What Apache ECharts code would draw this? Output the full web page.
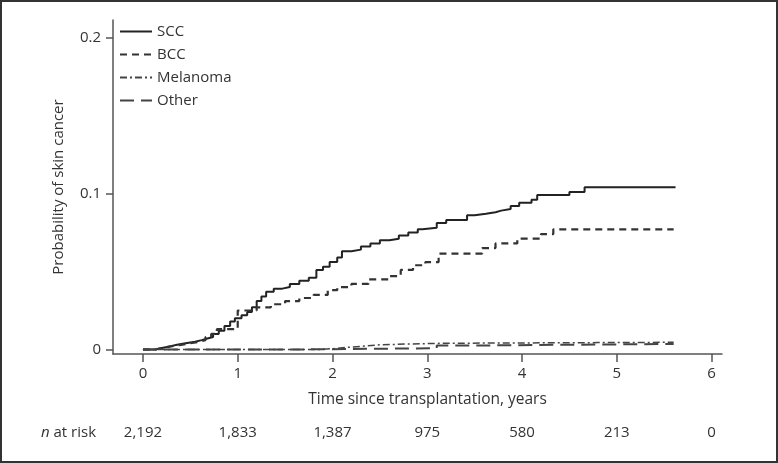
<!DOCTYPE html>
<html>
<head>
<meta charset="utf-8">
<script src="https://cdn.jsdelivr.net/npm/echarts@6/dist/echarts.min.js"></script>
<style>
html,body{margin:0;padding:0;background:#fff;}
#c{width:778px;height:463px;}
</style>
</head>
<body>
<div id="c"></div>
<script>
// Years since transplantation and cumulative probability (step points)
var sccPoints = [[0,0],[0.13,0.001],[0.2,0.002],[0.28,0.003],[0.36,0.004],[0.45,0.005],[0.55,0.006],[0.62,0.007],[0.68,0.008],[0.74,0.010],[0.8,0.012],[0.86,0.015],[0.92,0.018],[0.97,0.020],[1.04,0.022],[1.1,0.024],[1.15,0.027],[1.2,0.031],[1.25,0.034],[1.3,0.037],[1.38,0.039],[1.47,0.040],[1.55,0.042],[1.65,0.044],[1.75,0.046],[1.83,0.051],[1.9,0.053],[1.97,0.056],[2.05,0.059],[2.1,0.063],[2.2,0.064],[2.3,0.066],[2.4,0.068],[2.5,0.070],[2.6,0.071],[2.7,0.073],[2.8,0.075],[2.9,0.077],[2.95,0.078],[3.1,0.081],[3.2,0.083],[3.42,0.086],[3.5,0.087],[3.62,0.088],[3.72,0.089],[3.78,0.090],[3.88,0.092],[3.97,0.094],[4.1,0.096],[4.16,0.099],[4.5,0.101],[4.66,0.104],[5.62,0.104]];
var bccPoints = [[0,0],[0.13,0.001],[0.2,0.002],[0.3,0.003],[0.4,0.004],[0.5,0.005],[0.6,0.006],[0.66,0.008],[0.72,0.010],[0.78,0.013],[1.0,0.025],[1.2,0.027],[1.35,0.029],[1.5,0.031],[1.65,0.033],[1.8,0.035],[1.95,0.038],[2.05,0.040],[2.2,0.042],[2.38,0.045],[2.6,0.047],[2.72,0.051],[2.85,0.054],[2.98,0.056],[3.12,0.0615],[3.58,0.065],[3.72,0.068],[3.95,0.071],[4.2,0.074],[4.33,0.077],[5.6,0.077]];
var melanomaPoints = [[0,0],[1.85,0.0005],[2.0,0.0013],[2.15,0.002],[2.3,0.003],[2.5,0.0035],[2.8,0.004],[3.2,0.0042],[4.0,0.0044],[4.8,0.0046],[5.6,0.0048]];
var otherPoints = [[0,0],[1.65,0.0008],[3.1,0.0025],[3.5,0.003],[4.4,0.0035],[5.6,0.0035]];

var seriesNames = ['SCC','BCC','Melanoma','Other'];
var xTicks = [0,1,2,3,4,5,6];
var yTicks = [0,0.1,0.2];
var atRisk = ['2,192','1,833','1,387','975','580','213','0'];

var FONT = '"Open Sans", "Noto Sans", sans-serif';
var TXT = '#333';

var chart = echarts.init(document.getElementById('c'), null, {renderer:'canvas'});

function mkSeries(name, data, color, width, dash){
  return {
    name: name, type: 'line', data: data, step: 'end',
    xAxisIndex: 0, yAxisIndex: 0,
    symbol: 'none', showSymbol: false, silent: true, animation: false,
    lineStyle: {color: color, width: width, type: dash},
    itemStyle: {color: color}
  };
}

var option = {
  animation: false,
  backgroundColor: '#fff',
  grid: {left: 113, right: 56, top: 20, bottom: 109, containLabel: false},
  legend: {
    left: 114, top: 19, orient: 'vertical',
    itemWidth: 32, itemHeight: 14, itemGap: 8,
    data: seriesNames,
    itemStyle: {opacity: 0, borderWidth: 0},
    textStyle: {fontFamily: FONT, fontSize: 15, color: TXT}
  },
  xAxis: [{
    type: 'value', min: -0.316, max: 6.11,
    name: 'Time since transplantation, years',
    nameLocation: 'middle', nameGap: 38,
    nameTextStyle: {fontFamily: FONT, fontSize: 15.5, color: TXT, padding: [0,0,0,20]},
    axisLine: {show: true, onZero: false, lineStyle: {color: '#555', width: 1.5}},
    axisTick: {show: true, length: 8, customValues: xTicks, lineStyle: {color: '#555', width: 1.5}},
    axisLabel: {show: true, customValues: xTicks, margin: 12, fontFamily: FONT, fontSize: 15, color: TXT},
    splitLine: {show: false}
  },{
    type: 'value', min: -0.316, max: 6.11, position: 'bottom', offset: 62,
    axisLine: {show: false}, axisTick: {show: false}, splitLine: {show: false},
    axisLabel: {show: true, customValues: xTicks, margin: 9, fontFamily: FONT, fontSize: 15, color: TXT,
      formatter: function(v){ return atRisk[Math.round(v)]; }}
  }],
  yAxis: {
    type: 'value', min: -0.0029, max: 0.2112,
    name: 'Probability of skin cancer',
    nameLocation: 'middle', nameGap: 47,
    nameTextStyle: {fontFamily: FONT, fontSize: 15, color: TXT},
    axisLine: {show: true, onZero: false, lineStyle: {color: '#555', width: 1.5}},
    axisTick: {show: true, length: 7, customValues: yTicks, lineStyle: {color: '#555', width: 1.5}},
    axisLabel: {show: true, customValues: yTicks, margin: 12, fontFamily: FONT, fontSize: 15, color: TXT,
      formatter: function(v){ return v === 0 ? '0' : v.toFixed(1); }},
    splitLine: {show: false}
  },
  graphic: [
    {type: 'rect', shape: {x: 1, y: 1, width: 776, height: 461}, style: {fill: 'none', stroke: '#333', lineWidth: 2}, silent: true},
    {type: 'text', left: 41, top: 425, style: {
      text: '{i|n} at risk', fontFamily: FONT, fontSize: 15, fill: TXT,
      rich: {i: {fontStyle: 'italic', fontFamily: FONT, fontSize: 15, fill: TXT}}
    }}
  ],
  series: [
    mkSeries('SCC', sccPoints, '#222', 2, 'solid'),
    mkSeries('BCC', bccPoints, '#333', 2.2, [7,5]),
    mkSeries('Melanoma', melanomaPoints, '#444', 1.5, [7,3,2,3]),
    mkSeries('Other', otherPoints, '#444', 2, [14,7])
  ]
};
chart.setOption(option);
</script>
</body>
</html>
